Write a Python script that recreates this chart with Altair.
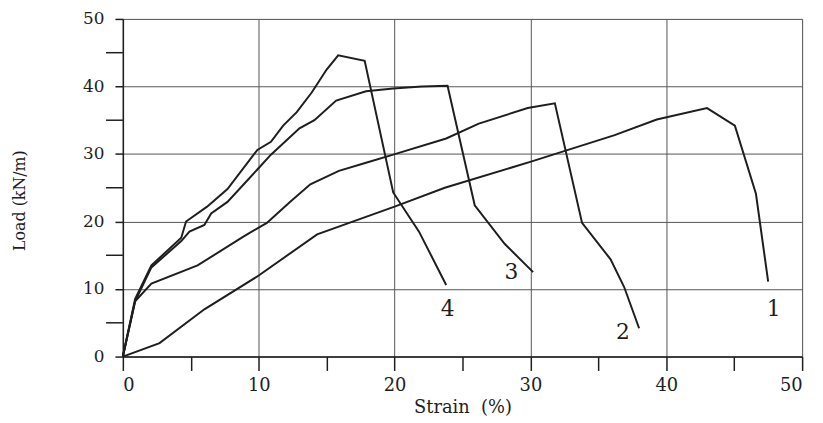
import altair as alt
import pandas as pd

# ---- data ----
c1_strain = [0, 2.7, 6.0, 10.0, 14.3, 20.0, 23.7, 30.1, 36.2, 39.3, 43.0, 45.05, 46.6, 47.5]
c1_load = [0, 2.0, 7.0, 12.0, 18.1, 22.2, 25.0, 28.9, 32.8, 35.1, 36.8, 34.2, 24.1, 11.1]

c2_strain = [0, 0.9, 2.1, 5.5, 8.9, 10.6, 12.3, 13.8, 15.9, 17.9, 19.9, 23.8, 26.2, 29.8, 31.8, 33.8, 35.9, 36.9, 38.0]
c2_load = [0, 8.2, 10.8, 13.5, 17.8, 19.8, 22.9, 25.5, 27.5, 28.7, 29.9, 32.3, 34.5, 36.8, 37.5, 19.8, 14.4, 10.3, 4.2]

c3_strain = [0, 0.9, 2.1, 4.3, 4.9, 6.0, 6.5, 7.7, 9.9, 10.9, 13.0, 14.1, 15.7, 17.9, 19.9, 22.0, 23.9, 25.9, 28.1, 30.2]
c3_load = [0, 8.2, 13.2, 17.1, 18.5, 19.5, 21.2, 22.9, 27.7, 29.9, 33.8, 35.0, 37.9, 39.3, 39.7, 40.0, 40.1, 22.4, 16.7, 12.5]

c4_strain = [0, 0.9, 2.1, 4.3, 4.65, 6.2, 7.7, 9.9, 10.9, 11.8, 12.8, 13.9, 15.0, 15.85, 17.8, 19.9, 21.8, 23.8]
c4_load = [0, 8.5, 13.5, 17.6, 20.0, 22.2, 24.8, 30.6, 31.8, 34.2, 36.2, 39.1, 42.5, 44.6, 43.8, 24.3, 18.5, 10.6]

label_text = ["1", "2", "3", "4"]
label_strain = [47.9, 36.8, 28.6, 23.9]
label_load = [7.0, 3.6, 12.5, 7.0]

minor_y = [5, 15, 25, 35, 45]
x_tick_values = [0, 5, 10, 15, 20, 25, 30, 35, 40, 45, 50]
y_tick_values = [0, 10, 20, 30, 40, 50]

rows = []
for name, xs, ys in [("1", c1_strain, c1_load), ("2", c2_strain, c2_load),
                     ("3", c3_strain, c3_load), ("4", c4_strain, c4_load)]:
    for i, (a, b) in enumerate(zip(xs, ys)):
        rows.append({"curve": name, "idx": i, "strain": a, "load": b})
df = pd.DataFrame(rows)
lab_df = pd.DataFrame({"t": label_text, "strain": label_strain, "load": label_load})
minor_df = pd.DataFrame({"load": minor_y})

FONT = "DejaVu Serif"
INK = "#1e1e1e"

xscale = alt.Scale(domain=[0, 50], nice=False, zero=False)
yscale = alt.Scale(domain=[0, 50], nice=False, zero=False)

x_axis = alt.Axis(
    values=x_tick_values,
    labelExpr="datum.value % 10 === 0 ? datum.label : ''",
    grid=True,
    gridColor={"condition": {"test": "datum.value % 10 === 0", "value": "#555555"}, "value": "transparent"},
    gridWidth=1,
    tickSize=14, tickWidth=1.5, tickColor=INK,
    domainColor=INK, domainWidth=1.5,
    labelFont=FONT, labelFontSize=18, labelColor=INK, labelPadding=6,
    title="Strain\u00a0\u00a0(%)", titleFont=FONT, titleFontSize=18, titleFontWeight="normal",
    titleColor=INK, titleBaseline="alphabetic", titleY=56,
)
y_axis = alt.Axis(
    values=y_tick_values,
    grid=True, gridColor="#555555", gridWidth=1,
    tickSize=8, tickWidth=1.5, tickColor=INK,
    domainColor=INK, domainWidth=1.5,
    labelFont=FONT, labelFontSize=17, labelColor=INK, labelPadding=11,
    title="Load (kN/m)", titleFont=FONT, titleFontSize=16, titleFontWeight="normal",
    titleColor=INK, titleAngle=-90, titleBaseline="alphabetic",
    titleX=-99, titleY=183, titleAlign="center",
)

lines = alt.Chart(df).mark_line(color=INK, strokeWidth=2).encode(
    x=alt.X("strain:Q", scale=xscale, axis=x_axis),
    y=alt.Y("load:Q", scale=yscale, axis=y_axis),
    detail="curve:N",
    order=alt.Order("idx:Q"),
)

labels = alt.Chart(lab_df).mark_text(
    font=FONT, fontSize=22, color=INK, align="center", baseline="middle"
).encode(
    x=alt.X("strain:Q", scale=xscale),
    y=alt.Y("load:Q", scale=yscale),
    text="t:N",
)

minor = alt.Chart(minor_df).mark_rule(color=INK, strokeWidth=1.5).encode(
    y=alt.Y("load:Q", scale=yscale),
    x=alt.value(-17),
    x2=alt.value(0),
)

chart = alt.layer(minor, lines, labels).properties(
    width=686, height=341,
    autosize=alt.AutoSizeParams(type="none"),
    padding={"left": 116, "top": 9, "right": 13, "bottom": 60},
).configure_view(stroke=None).configure(background="white")

chart.save("out.html", embed_options={"renderer": "svg", "actions": False})
